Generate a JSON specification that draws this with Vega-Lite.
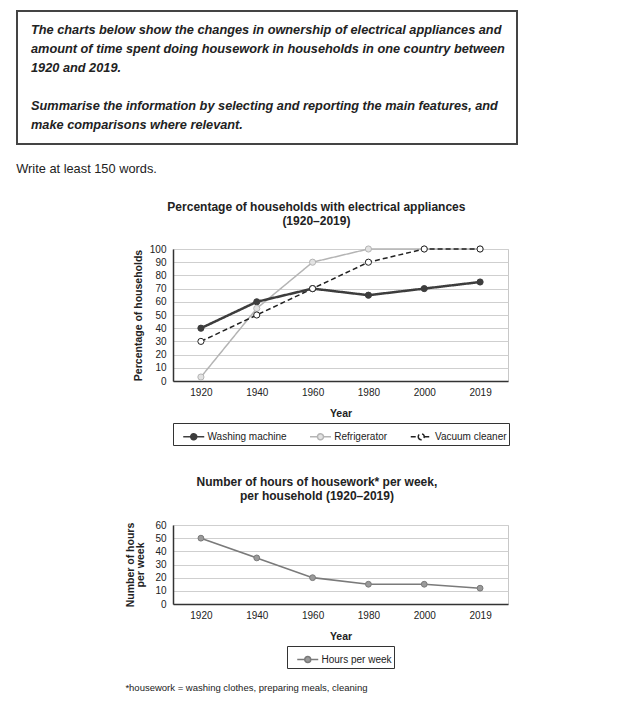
{
  "$schema": "https://vega.github.io/schema/vega-lite/v6.json",
  "background": "white",
  "padding": {"left": 16, "top": 10, "right": 5, "bottom": 5},
  "spacing": 24,
  "config": {
    "font": "Liberation Sans",
    "view": {"stroke": "#c8c8c8", "strokeWidth": 1},
    "axis": {
      "labelFontSize": 10, "labelColor": "#222", "labelFont": "Liberation Sans",
      "titleFontSize": 10.5, "titleColor": "#222", "titleFontWeight": "bold", "titleFont": "Liberation Sans",
      "ticks": false, "domainColor": "#333", "domainWidth": 1.5,
      "gridColor": "#cfcfcf", "gridWidth": 1
    },
    "legend": {
      "orient": "bottom", "direction": "horizontal", "title": null,
      "strokeColor": "#333", "padding": 2, "offset": 4,
      "labelFontSize": 10, "labelColor": "#222", "labelFont": "Liberation Sans",
      "labelOffset": 9.5, "columnPadding": 14.75,
      "symbolType": "M-0.31,0H0.404M0.976,0H1.69M0.404,0A0.286,0.286,0,1,0,0.976,0A0.286,0.286,0,1,0,0.404,0Z",
      "symbolSize": 441, "symbolStrokeWidth": 1.5,
      "layout": {"bottom": {"anchor": "middle"}}
    },
    "title": {"color": "#222", "font": "Liberation Sans"}
  },
  "vconcat": [
    {
      "width": 335,
      "height": 133,
      "view": {"stroke": null},
      "title": {"text": "Write at least 150 words.", "orient": "bottom", "anchor": "start", "frame": "bounds", "offset": 18, "fontSize": 12.8, "fontWeight": "normal", "color": "#222"},
      "data": {"values": [
        {"n": 1, "line": "The charts below show the changes in ownership of electrical appliances and"},
        {"n": 2, "line": "amount of time spent doing housework in households in one country between"},
        {"n": 3, "line": "1920 and 2019."},
        {"n": 4, "line": ""},
        {"n": 5, "line": "Summarise the information by selecting and reporting the main features, and"},
        {"n": 6, "line": "make comparisons where relevant."}
      ]},
      "layer": [
        {
          "mark": {"type": "rect", "filled": false, "stroke": "#444", "strokeWidth": 1.5},
          "encoding": {
            "x": {"datum": 0, "type": "quantitative", "scale": {"domain": [0, 1], "range": [-156, 344]}, "axis": null},
            "x2": {"datum": 1}
          }
        },
        {
          "mark": {"type": "text", "align": "left", "baseline": "middle", "fontSize": 12.75, "fontWeight": "bold", "fontStyle": "italic", "color": "#222"},
          "encoding": {
            "x": {"datum": 0.028, "type": "quantitative"},
            "y": {"field": "n", "type": "ordinal", "scale": {"type": "point", "padding": 1.25}, "axis": null},
            "text": {"field": "line"}
          }
        }
      ]
    },
    {
      "spacing": 29,
      "title": {"text": "*housework = washing clothes, preparing meals, cleaning", "orient": "bottom", "anchor": "start", "frame": "bounds", "offset": 14, "fontSize": 9.5, "fontWeight": "normal", "color": "#222"},
      "resolve": {
        "scale": {"stroke": "independent", "fill": "independent", "strokeDash": "independent"},
        "legend": {"stroke": "independent", "fill": "independent", "strokeDash": "independent"}
      },
      "vconcat": [
        {
          "width": 335,
          "height": 132,
          "title": {"text": ["Percentage of households with electrical appliances", "(1920–2019)"], "fontSize": 12, "fontWeight": "bold", "lineHeight": 14, "anchor": "middle", "frame": "bounds", "offset": 16, "dx": -5},
          "data": {"values": [
            {"year": "1920", "series": "Washing machine", "pct": 40},
            {"year": "1940", "series": "Washing machine", "pct": 60},
            {"year": "1960", "series": "Washing machine", "pct": 70},
            {"year": "1980", "series": "Washing machine", "pct": 65},
            {"year": "2000", "series": "Washing machine", "pct": 70},
            {"year": "2019", "series": "Washing machine", "pct": 75},
            {"year": "1920", "series": "Refrigerator", "pct": 3},
            {"year": "1940", "series": "Refrigerator", "pct": 55},
            {"year": "1960", "series": "Refrigerator", "pct": 90},
            {"year": "1980", "series": "Refrigerator", "pct": 100},
            {"year": "2000", "series": "Refrigerator", "pct": 100},
            {"year": "2019", "series": "Refrigerator", "pct": 100},
            {"year": "1920", "series": "Vacuum cleaner", "pct": 30},
            {"year": "1940", "series": "Vacuum cleaner", "pct": 50},
            {"year": "1960", "series": "Vacuum cleaner", "pct": 70},
            {"year": "1980", "series": "Vacuum cleaner", "pct": 90},
            {"year": "2000", "series": "Vacuum cleaner", "pct": 100},
            {"year": "2019", "series": "Vacuum cleaner", "pct": 100}
          ]},
          "encoding": {
            "x": {"field": "year", "type": "ordinal", "scale": {"type": "point", "padding": 0.5}, "axis": {"title": "Year", "labelAngle": 0, "grid": false, "labelPadding": 6, "titlePadding": 11}},
            "y": {"field": "pct", "type": "quantitative", "scale": {"domain": [0, 100], "nice": false}, "axis": {"title": "Percentage of households", "values": [0, 10, 20, 30, 40, 50, 60, 70, 80, 90, 100], "grid": true, "labelPadding": 7, "titlePadding": 6}},
            "stroke": {"field": "series", "type": "nominal", "scale": {"domain": ["Washing machine", "Refrigerator", "Vacuum cleaner"], "range": ["#3d3d3d", "#b4b4b4", "#222222"]}}
          },
          "layer": [
            {
              "transform": [{"filter": "datum.series !== 'Washing machine'"}],
              "mark": {"type": "line", "strokeWidth": 1.5},
              "encoding": {
                "strokeDash": {"field": "series", "type": "nominal", "scale": {"domain": ["Washing machine", "Refrigerator", "Vacuum cleaner"], "range": [[1, 0], [1, 0], [5, 3]]}, "legend": {"encode": {"symbols": {"update": {"strokeDash": {"value": [1, 0]}}}}}}
              }
            },
            {
              "transform": [{"filter": "datum.series === 'Washing machine'"}],
              "mark": {"type": "line", "strokeWidth": 2.5},
              "encoding": {
                "strokeDash": {"field": "series", "type": "nominal"}
              }
            },
            {
              "mark": {"type": "point", "filled": true, "size": 38, "strokeWidth": 1, "opacity": 1},
              "encoding": {
                "fill": {"field": "series", "type": "nominal", "scale": {"domain": ["Washing machine", "Refrigerator", "Vacuum cleaner"], "range": ["#3d3d3d", "#e2e2e2", "#ffffff"]}}
              }
            }
          ]
        },
        {
          "width": 335,
          "height": 79,
          "title": {"text": ["Number of hours of housework* per week,", "per household (1920–2019)"], "fontSize": 12, "fontWeight": "bold", "lineHeight": 14, "anchor": "middle", "frame": "bounds", "offset": 17},
          "data": {"values": [
            {"year": "1920", "series": "Hours per week", "hours": 50},
            {"year": "1940", "series": "Hours per week", "hours": 35},
            {"year": "1960", "series": "Hours per week", "hours": 20},
            {"year": "1980", "series": "Hours per week", "hours": 15},
            {"year": "2000", "series": "Hours per week", "hours": 15},
            {"year": "2019", "series": "Hours per week", "hours": 12}
          ]},
          "encoding": {
            "x": {"field": "year", "type": "ordinal", "scale": {"type": "point", "padding": 0.5}, "axis": {"title": "Year", "labelAngle": 0, "grid": false, "labelPadding": 6, "titlePadding": 11}},
            "y": {"field": "hours", "type": "quantitative", "scale": {"domain": [0, 60], "nice": false}, "axis": {"title": ["Number of hours", "per week"], "titleLineHeight": 10, "values": [0, 10, 20, 30, 40, 50, 60], "grid": true, "labelPadding": 7, "titlePadding": 9}},
            "stroke": {"field": "series", "type": "nominal", "scale": {"domain": ["Hours per week"], "range": ["#7a7a7a"]}}
          },
          "layer": [
            {
              "mark": {"type": "line", "strokeWidth": 1.6},
              "encoding": {}
            },
            {
              "mark": {"type": "point", "filled": true, "size": 34, "strokeWidth": 1, "opacity": 1},
              "encoding": {
                "fill": {"field": "series", "type": "nominal", "scale": {"domain": ["Hours per week"], "range": ["#9a9a9a"]}}
              }
            }
          ]
        }
      ]
    }
  ]
}
